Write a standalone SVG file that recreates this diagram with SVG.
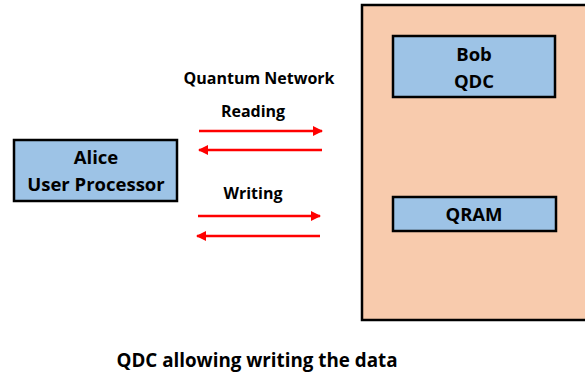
<svg xmlns="http://www.w3.org/2000/svg" width="585" height="377" viewBox="0 0 585 377">
<defs>
<style>
.t{font-family:"Open Sans","Liberation Sans",sans-serif;font-weight:bold;fill:#000;text-anchor:middle}
.box{fill:#9dc3e6;stroke:#000;stroke-width:2.5}
.arr{stroke:#ff0000;stroke-width:2.5;fill:none}
</style>
<marker id="ah" viewBox="0 0 10 10" refX="9" refY="5" markerWidth="4" markerHeight="4" orient="auto" markerUnits="strokeWidth">
<path d="M0,0 L10,5 L0,10 z" fill="#ff0000"/>
</marker>
</defs>
<rect width="585" height="377" fill="#fff"/>
<g id="container">
<rect x="362" y="5" width="240" height="315" fill="#f8cbad" stroke="#000" stroke-width="2.5"/>
</g>
<g id="bob">
<rect class="box" x="393" y="36" width="162" height="61"/>
<text class="t" x="474" y="61" font-size="18.5">Bob</text>
<text class="t" x="474" y="88" font-size="18.5">QDC</text>
</g>
<g id="qram">
<rect class="box" x="393" y="197" width="163" height="34"/>
<text class="t" x="474" y="221" font-size="18.5">QRAM</text>
</g>
<g id="alice">
<rect class="box" x="14" y="140" width="163" height="61"/>
<text class="t" x="96" y="164" font-size="18.5">Alice</text>
<text class="t" x="96" y="191" font-size="18.5">User Processor</text>
</g>
<g id="labels">
<text class="t" x="259" y="84" font-size="16">Quantum Network</text>
<text class="t" x="253" y="117" font-size="16">Reading</text>
<text class="t" x="253" y="199" font-size="16">Writing</text>
<text class="t" x="257" y="367" font-size="18.8">QDC allowing writing the data</text>
</g>
<g id="connectors">
<line class="arr" x1="199" y1="131" x2="322" y2="131" marker-end="url(#ah)"/>
<line class="arr" x1="322" y1="150" x2="199" y2="150" marker-end="url(#ah)"/>
<line class="arr" x1="198" y1="216" x2="320" y2="216" marker-end="url(#ah)"/>
<line class="arr" x1="320" y1="236" x2="197" y2="236" marker-end="url(#ah)"/>
</g>
</svg>
